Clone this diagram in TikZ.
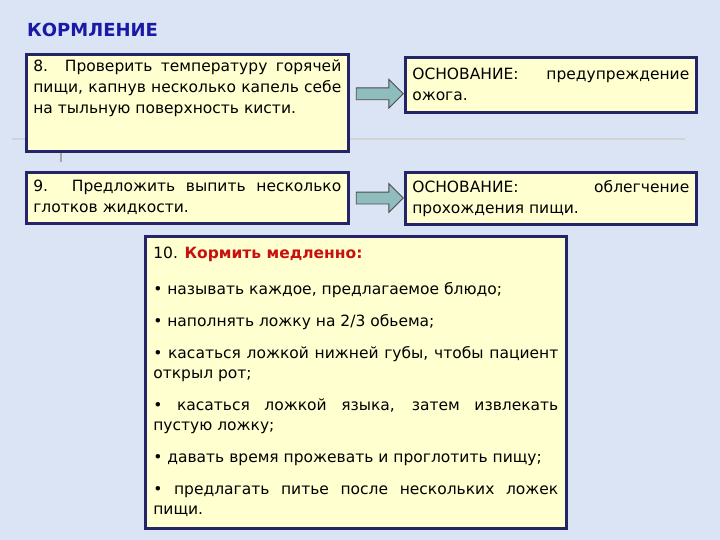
\documentclass[tikz,border=0pt]{standalone}
\usepackage{fontspec}
\setmainfont{DejaVu Sans}
\usepackage{tikz}
\usetikzlibrary{calc,positioning,shapes.arrows}
\definecolor{slideBg}{RGB}{218,228,245}
\definecolor{boxFill}{RGB}{255,255,208}
\definecolor{boxLine}{RGB}{36,36,104}
\definecolor{titleBlue}{RGB}{26,26,166}
\definecolor{accentRed}{RGB}{200,16,16}
\definecolor{arrowFill}{RGB}{143,188,188}
\tikzset{
  stepBox/.style={draw=boxLine, line width=2.6pt, fill=boxFill, anchor=north west, align=justify, inner ysep=5pt,
    font=\fontsize{15.5}{21}\selectfont},
  arrowBlock/.style={single arrow, draw=black!70, line width=0.8pt, fill=arrowFill, minimum height=47pt,
    minimum width=28pt, inner sep=5.5pt, single arrow head extend=8.5pt},
}

\begin{document}
\begin{tikzpicture}[x=1pt, y=-1pt]
      \useasboundingbox[fill=slideBg] (0,0) rectangle (720,540);
      % faint guide line behind the boxes
      \draw[line width=2.5pt, gray!35] (12,139) -- (685,139);
      \draw[line width=2pt, gray!70] (61,152) -- (61,162);

      \node[anchor=north west, inner sep=0pt, font=\fontsize{18}{20}\selectfont\bfseries, text=titleBlue] (title) at (27,23) {КОРМЛЕНИЕ};

      \node[stepBox, inner xsep=7pt] (boxEight) at (25,53)
        {\begin{minipage}[t][87pt][t]{308pt}8. Проверить температуру горячей\linebreak пищи, капнув несколько капель себе\linebreak на тыльную поверхность кисти.\end{minipage}};
      \node[stepBox, inner xsep=7pt, text width=308pt, minimum height=51pt] (boxNine) at (25,171)
        {9. Предложить выпить несколько\linebreak глотков жидкости.};

      \node[stepBox, inner xsep=7pt, text width=277pt, minimum height=55pt] (reasonEight) at (404,56)
        {ОСНОВАНИЕ: предупреждение\linebreak ожога.};
      \node[stepBox, inner xsep=7pt, text width=277pt, minimum height=52pt] (reasonNine) at (404,171)
        {ОСНОВАНИЕ: облегчение\linebreak прохождения пищи.};

      \node[arrowBlock] (arrowEight) at ($(boxEight.east)!0.5!(reasonEight.west)$) {};
      \node[arrowBlock] (arrowNine) at ($(boxNine.east)!0.5!(reasonNine.west)$) {};

      \node[stepBox, inner xsep=8pt, text width=405pt, minimum height=292pt, font=\fontsize{15.5}{20}\selectfont\setlength{\parskip}{12pt}] (boxTen) at (144,235)
        {10. {\bfseries\color{accentRed}Кормить медленно:}\par\vspace{4pt}
        • называть каждое, предлагаемое блюдо;\par
        • наполнять ложку на 2/3 обьема;\par
        • касаться ложкой нижней губы, чтобы пациент\linebreak открыл рот;\par
        • касаться ложкой языка, затем извлекать\linebreak пустую ложку;\par
        • давать время прожевать и проглотить пищу;\par
        • предлагать питье после нескольких ложек\linebreak пищи.};
    \end{tikzpicture}
\end{document}
